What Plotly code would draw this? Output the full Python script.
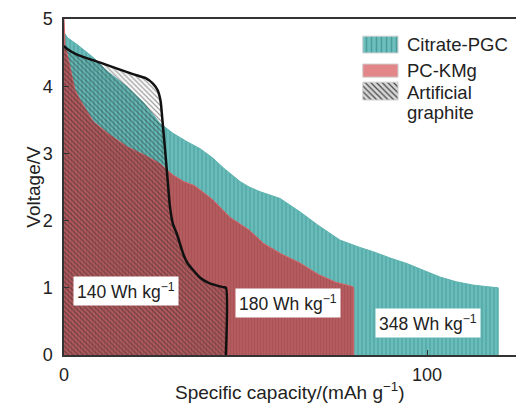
import plotly.graph_objects as go

# Discharge curves: specific capacity (mAh/g) vs voltage (V)
pgc_cap = [0, 1, 3.6, 8, 12, 17.4, 22, 26.4, 30, 34, 37.5, 41, 44, 48.5, 51, 54, 59.5, 65, 70,
           76, 81.5, 85, 90, 94.5, 99, 103.6, 108, 112.7, 116, 119.6, 119.6]
pgc_volt = [4.8, 4.72, 4.62, 4.43, 4.22, 3.99, 3.75, 3.45, 3.3, 3.17, 3.07, 2.93, 2.78, 2.58, 2.5, 2.43, 2.33, 2.13, 1.93,
            1.71, 1.6, 1.54, 1.44, 1.36, 1.26, 1.16, 1.09, 1.04, 1.02, 1.0, 0]

kmg_cap = [0, 0.3, 0.8, 1.6, 3, 4.4, 8, 12, 17.4, 22, 26.4, 30, 33, 36, 41, 45.7, 51, 55, 60, 65,
           70, 75, 79.5, 79.8, 79.8]
kmg_volt = [5.0, 4.6, 4.5, 4.29, 3.95, 3.8, 3.48, 3.3, 3.1, 2.98, 2.85, 2.68, 2.58, 2.52, 2.31, 2.05, 1.86, 1.66, 1.5, 1.37,
            1.2, 1.08, 1.02, 1.0, 0]

ag_cap = [0, 1, 3.6, 10, 19, 22.5, 24.5, 25.8, 26.6, 27.1, 27.6, 28.4, 29.2, 30, 31.1, 33, 34, 37.5, 40, 43.8, 44.6, 44.6]
ag_volt = [4.6, 4.55, 4.47, 4.35, 4.18, 4.12, 4.04, 3.94, 3.78, 3.5, 3.2, 2.7, 2.2, 1.95, 1.8, 1.48, 1.37, 1.15, 1.07, 1.01, 1.0, 0]

energy_labels = ["140 Wh kg<sup>−1</sup>", "180 Wh kg<sup>−1</sup>", "348 Wh kg<sup>−1</sup>"]
energy_pos = [(17.1, 0.95), (61.7, 0.77), (100.3, 0.48)]

# legend text lines (the last entry wraps onto two lines)
legend_lines = ["Citrate-PGC", "PC-KMg", "Artificial", "graphite"]
legend_line_y = [0.923, 0.848, 0.780, 0.723]

FONT = "Liberation Sans, Arial, sans-serif"
TXT = "#222222"

fig = go.Figure()

fig.add_trace(go.Scatter(
    x=pgc_cap, y=pgc_volt, mode="lines", fill="tozeroy",
    line=dict(color="#5cb3b0", width=1),
    fillcolor="#68bcb9",
    fillpattern=dict(shape="|", fgcolor="#4c9e9b", bgcolor="#68bcb9", size=4, solidity=0.25, fillmode="replace"),
    showlegend=False, hoverinfo="skip"))

fig.add_trace(go.Scatter(
    x=kmg_cap, y=kmg_volt, mode="lines", fill="tozeroy",
    line=dict(color="#d9656a", width=1),
    fillcolor="#b35b5e",
    fillpattern=dict(shape="|", fgcolor="#a24e51", bgcolor="#b35b5e", size=3, solidity=0.2, fillmode="replace"),
    showlegend=False, hoverinfo="skip"))

fig.add_trace(go.Scatter(
    x=ag_cap, y=ag_volt, mode="lines", fill="tozeroy",
    line=dict(color="#111111", width=2.5, shape="spline", smoothing=0.6),
    fillcolor="rgba(0,0,0,0)",
    fillpattern=dict(shape="\\", fgcolor="#222222", fgopacity=0.45, size=3.5, solidity=0.35, fillmode="overlay"),
    showlegend=False, hoverinfo="skip"))

# Legend swatches drawn on an overlay axis spanning the plot area (0..1)
swatches = [
    dict(y0=0.899, y1=0.949, bg="#6dbfbd", fg="#4a9d9a", shape="|", size=5, sol=0.3),
    dict(y0=0.827, y1=0.866, bg="#e3868a", fg="#d77479", shape="", size=5, sol=0.2),
    dict(y0=0.759, y1=0.812, bg="#d8d8d8", fg="#444444", shape="\\", size=4, sol=0.3),
]
sx0, sx1 = 0.661, 0.739
for s in swatches:
    pat = dict(shape=s["shape"], fgcolor=s["fg"], bgcolor=s["bg"], size=s["size"], solidity=s["sol"], fillmode="replace")
    fig.add_trace(go.Scatter(
        x=[sx0, sx1, sx1, sx0, sx0], y=[s["y0"], s["y0"], s["y1"], s["y1"], s["y0"]],
        mode="lines", fill="toself", fillcolor=s["bg"],
        fillpattern=pat if s["shape"] else None,
        line=dict(color="#cfcfcf", width=1),
        xaxis="x2", yaxis="y2", showlegend=False, hoverinfo="skip"))

for name, ly in zip(legend_lines, legend_line_y):
    fig.add_annotation(x=0.755, y=ly, xref="paper", yref="paper", text=name, showarrow=False,
                       xanchor="left", yanchor="middle", align="left",
                       font=dict(family=FONT, size=18.5, color=TXT))

for text, (ex, ey) in zip(energy_labels, energy_pos):
    fig.add_annotation(x=ex, y=ey, text=text, showarrow=False, bgcolor="white",
                       borderpad=3, font=dict(family=FONT, size=17.5, color=TXT))

fig.add_annotation(x=-0.097, y=0.5, xref="paper", yref="paper", text="Voltage/V", textangle=-90,
                   showarrow=False, font=dict(family=FONT, size=19, color=TXT))
fig.add_annotation(x=0.5, y=-0.149, xref="paper", yref="paper", text="Specific capacity/(mAh g<sup>−1</sup>)",
                   showarrow=False, font=dict(family=FONT, size=19, color=TXT))

fig.update_layout(
    width=516, height=415,
    margin=dict(l=64, r=0, t=19, b=60),
    paper_bgcolor="white", plot_bgcolor="white",
    font=dict(family=FONT, size=18, color=TXT),
    xaxis=dict(range=[0, 124.5], tickvals=[0, 100], ticks="inside", ticklen=5, tickcolor="#333",
               showline=True, linecolor="#333", linewidth=1.5, mirror=True, showgrid=False, zeroline=False,
               ticklabelstandoff=3),
    yaxis=dict(range=[0, 5], tickvals=[0, 1, 2, 3, 4, 5], ticks="inside", ticklen=5, tickcolor="#333",
               showline=True, linecolor="#333", linewidth=1.5, showgrid=False, zeroline=False,
               ticklabelstandoff=6),
    xaxis2=dict(overlaying="x", range=[0, 1], visible=False),
    yaxis2=dict(overlaying="y", range=[0, 1], visible=False),
)

fig.write_html("out.html")
